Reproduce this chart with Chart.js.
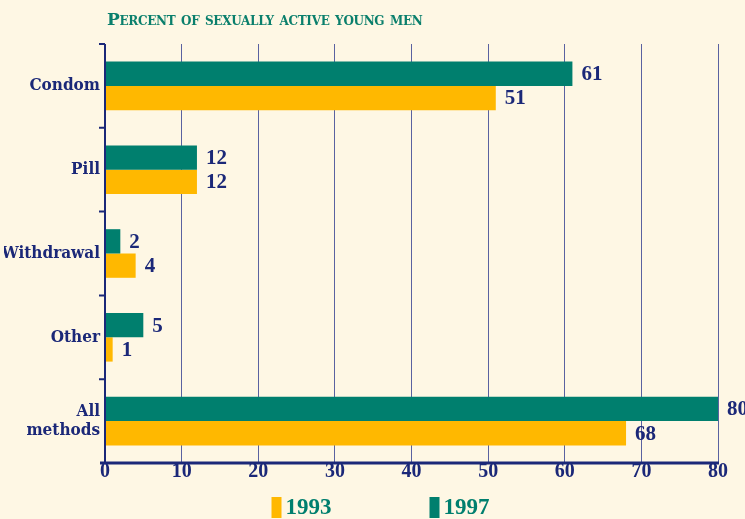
<!DOCTYPE html>
<html>
<head>
<meta charset="utf-8">
<script src="https://cdn.jsdelivr.net/npm/chart.js@4.4.0/dist/chart.umd.min.js"></script>
<style>
  html, body { margin: 0; padding: 0; background: #fef7e4; }
  #wrap { position: relative; width: 745px; height: 519px; }
  #title {
    position: absolute; left: 107px; top: 9px;
    font: bold 17px "DejaVu Serif", serif; font-variant: small-caps;
    color: #0a7f6c; letter-spacing: -0.3px;
  }
</style>
</head>
<body>
<div id="wrap">
  <div id="title">Percent of sexually active young men</div>
  <canvas id="chart" width="745" height="519"></canvas>
</div>
<script>
// Dados
const categories = ['Condom', 'Pill', 'Withdrawal', 'Other', ['All', 'methods']];
const values1997 = [61, 12, 2, 5, 80];
const values1993 = [51, 12, 4, 1, 68];
const xTicks = [0, 10, 20, 30, 40, 50, 60, 70, 80];
const legendOrder = ['1993', '1997'];

const navy = '#1b2878';
const green = '#007f6e';
const yellow = '#ffb800';
const numFont = '"Liberation Serif", serif';
const labelFont = '"DejaVu Serif Condensed", "Liberation Serif", serif';

// Rótulos de valor na ponta das barras
const valueLabels = {
    id: 'valueLabels',
    afterDatasetsDraw(chart) {
        const ctx = chart.ctx;
        ctx.save();
        ctx.fillStyle = navy;
        ctx.font = 'bold 21px ' + numFont;
        ctx.textBaseline = 'middle';
        chart.data.datasets.forEach((ds, i) => {
            chart.getDatasetMeta(i).data.forEach((bar, j) => {
                ctx.fillText(ds.data[j], bar.x + 9, bar.y + 1);
            });
        });
        ctx.restore();
    }
};

// Linha do eixo inferior, eixo y e legenda
const extras = {
    id: 'extras',
    afterDraw(chart) {
        const ctx = chart.ctx;
        const a = chart.chartArea;
        ctx.save();
        ctx.strokeStyle = navy;
        ctx.lineWidth = 3;
        ctx.beginPath();
        ctx.moveTo(a.left - 5, a.bottom);
        ctx.lineTo(a.right + 1, a.bottom);
        ctx.stroke();
        ctx.lineWidth = 2;
        ctx.beginPath();
        ctx.moveTo(a.left, a.top);
        ctx.lineTo(a.left, a.bottom);
        const n = categories.length;
        for (let i = 0; i < n; i++) {
            const y = a.top + (a.bottom - a.top) * i / n;
            ctx.moveTo(a.left - 6, y);
            ctx.lineTo(a.left, y);
        }
        ctx.stroke();

        // legenda
        const colors = { '1993': yellow, '1997': green };
        const mid = (a.left + a.right) / 2;
        ctx.font = 'bold 23px ' + numFont;
        ctx.textBaseline = 'middle';
        legendOrder.forEach((lbl, i) => {
            const x = mid - 140 + i * 158;
            const y = 497;
            ctx.fillStyle = colors[lbl];
            ctx.fillRect(x, y, 10, 21);
            ctx.fillStyle = green;
            ctx.fillText(lbl, x + 14, y + 11);
        });
        ctx.restore();
    }
};

new Chart(document.getElementById('chart'), {
    type: 'bar',
    data: {
        labels: categories,
        datasets: [
            { label: '1997', data: values1997, backgroundColor: green, barPercentage: 1, categoryPercentage: 0.58 },
            { label: '1993', data: values1993, backgroundColor: yellow, barPercentage: 1, categoryPercentage: 0.58 }
        ]
    },
    options: {
        indexAxis: 'y',
        responsive: false,
        animation: false,
        layout: { padding: { top: 44, right: 27, left: 4, bottom: 38 } },
        scales: {
            x: {
                min: 0, max: 80,
                afterBuildTicks: s => { s.ticks = xTicks.map(v => ({ value: v })); },
                grid: { color: '#5a62a0', lineWidth: 1, drawTicks: false },
                border: { display: false },
                ticks: { color: navy, padding: -3, font: { family: numFont, weight: 'bold', size: 20 } }
            },
            y: {
                afterFit: s => { s.width = 101; },
                grid: { display: false, drawTicks: false },
                border: { display: false },
                ticks: { color: navy, padding: 5, font: { family: labelFont, weight: 'bold', size: 17, lineHeight: 1.15 } }
            }
        },
        plugins: {
            legend: { display: false },
            tooltip: { enabled: false }
        }
    },
    plugins: [valueLabels, extras]
});
</script>
</body>
</html>
